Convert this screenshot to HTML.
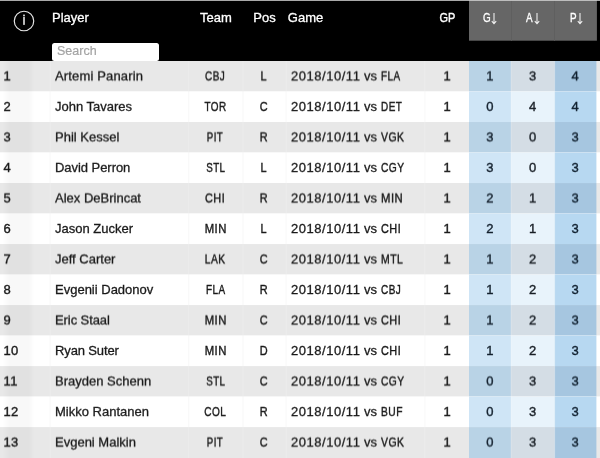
<!DOCTYPE html><html><head><meta charset="utf-8"><title>Stats</title><style>
*{box-sizing:border-box;margin:0;padding:0}
html,body{width:600px;height:458px;overflow:hidden;background:#fff}
body{font-family:"Liberation Sans",sans-serif;color:#1a1a1a}
b{font-weight:normal}
.wrap{position:relative;width:600px;height:458px;overflow:hidden}
.bg{position:absolute;left:0;top:0;display:block}
.hdr{position:absolute;left:0;top:0;width:600px;height:61px}
.info{position:absolute;left:11.7px;top:8.7px}
.h{position:absolute;top:10px;color:#fff;font-size:13px;line-height:16px;white-space:nowrap;-webkit-text-stroke:0.3px #fff}
.hc{text-align:center}
.ha{position:absolute;top:13.4px;line-height:0}
.ar{display:block}
.k{display:inline-block;transform:scaleX(.84);transform-origin:50% 50%;-webkit-text-stroke-width:.42px;letter-spacing:.6px}
.kl{display:inline-block;transform:scaleX(.8);transform-origin:0 50%;-webkit-text-stroke-width:.42px;letter-spacing:.6px}
.dt{letter-spacing:.53px}
.search{position:absolute;left:52px;top:42.8px;width:107px;height:18.4px;background:#fff;border-radius:2.5px;z-index:3}
.search span{position:absolute;left:5px;top:1px;font-size:12.5px;line-height:14px;color:#a4a4a4;-webkit-text-stroke:.2px #a4a4a4}
.body{position:absolute;left:0;top:61px;width:600px;height:397px}
.r{position:absolute;left:0;top:0;height:31px;width:600px;transform-origin:0 0}
.c{position:absolute;top:0;height:31px;font-size:13px;line-height:31px;white-space:nowrap;-webkit-text-stroke:0.3px #1a1a1a}
.c0{left:0;width:50px;padding-left:3.6px;border-left:0;letter-spacing:.3px}
.c1{left:50px;width:139px;padding-left:5px}
.c2{left:188.4px;width:54px;text-align:center}
.c3{left:242.4px;width:43px;text-align:center}
.c4{left:286px;width:139px;padding-left:5px}
.c5{left:425.5px;width:44px;text-align:center;padding-right:1px}
.c6{left:469.5px;width:42px;text-align:center;padding-right:1.5px}
.c7{left:511.3px;width:44px;text-align:center;padding-right:1.5px}
.c8{left:554.7px;width:41px;text-align:center}
.c9{left:596px;width:4px}
.band{position:absolute;left:0;top:0;width:50px;height:100%;background:linear-gradient(to right,rgba(0,0,0,0) 2px,rgba(0,0,0,.028) 9px,rgba(0,0,0,.028) 29px,rgba(0,0,0,0) 34px);pointer-events:none}
.kh{transform:scaleX(.76);-webkit-text-stroke-width:.35px}
.c6{color:#13202d;-webkit-text-stroke-color:#13202d}
.c7{color:#181e25;-webkit-text-stroke-color:#181e25}
.c8{color:#10202f;-webkit-text-stroke-color:#10202f}
.k1,.kh,.h .k{letter-spacing:0}
.c0,.c5,.c6,.c7,.c8{-webkit-text-stroke-width:.38px}

</style></head><body>
<div class="wrap">
<svg class="bg" width="600" height="458" viewBox="0 0 600 458"><rect x="0" y="61.00" width="600" height="30.53" fill="#e8e8e8"/><rect x="469" y="61.00" width="42.0" height="30.53" fill="#b9d3e6"/><rect x="511" y="61.00" width="43.6" height="30.53" fill="#d4dde5"/><rect x="554.6" y="61.00" width="41.8" height="30.53" fill="#a6c6e0"/><rect x="0" y="91.51" width="600" height="30.53" fill="#fff"/><rect x="469" y="91.51" width="42.0" height="30.53" fill="#cfe5f6"/><rect x="511" y="91.51" width="43.6" height="30.53" fill="#e8f3fb"/><rect x="554.6" y="91.51" width="41.8" height="30.53" fill="#b7d8f1"/><rect x="0" y="122.02" width="600" height="30.53" fill="#e8e8e8"/><rect x="469" y="122.02" width="42.0" height="30.53" fill="#b9d3e6"/><rect x="511" y="122.02" width="43.6" height="30.53" fill="#d4dde5"/><rect x="554.6" y="122.02" width="41.8" height="30.53" fill="#a6c6e0"/><rect x="0" y="152.53" width="600" height="30.53" fill="#fff"/><rect x="469" y="152.53" width="42.0" height="30.53" fill="#cfe5f6"/><rect x="511" y="152.53" width="43.6" height="30.53" fill="#e8f3fb"/><rect x="554.6" y="152.53" width="41.8" height="30.53" fill="#b7d8f1"/><rect x="0" y="183.04" width="600" height="30.53" fill="#e8e8e8"/><rect x="469" y="183.04" width="42.0" height="30.53" fill="#b9d3e6"/><rect x="511" y="183.04" width="43.6" height="30.53" fill="#d4dde5"/><rect x="554.6" y="183.04" width="41.8" height="30.53" fill="#a6c6e0"/><rect x="0" y="213.55" width="600" height="30.53" fill="#fff"/><rect x="469" y="213.55" width="42.0" height="30.53" fill="#cfe5f6"/><rect x="511" y="213.55" width="43.6" height="30.53" fill="#e8f3fb"/><rect x="554.6" y="213.55" width="41.8" height="30.53" fill="#b7d8f1"/><rect x="0" y="244.06" width="600" height="30.53" fill="#e8e8e8"/><rect x="469" y="244.06" width="42.0" height="30.53" fill="#b9d3e6"/><rect x="511" y="244.06" width="43.6" height="30.53" fill="#d4dde5"/><rect x="554.6" y="244.06" width="41.8" height="30.53" fill="#a6c6e0"/><rect x="0" y="274.57" width="600" height="30.53" fill="#fff"/><rect x="469" y="274.57" width="42.0" height="30.53" fill="#cfe5f6"/><rect x="511" y="274.57" width="43.6" height="30.53" fill="#e8f3fb"/><rect x="554.6" y="274.57" width="41.8" height="30.53" fill="#b7d8f1"/><rect x="0" y="305.08" width="600" height="30.53" fill="#e8e8e8"/><rect x="469" y="305.08" width="42.0" height="30.53" fill="#b9d3e6"/><rect x="511" y="305.08" width="43.6" height="30.53" fill="#d4dde5"/><rect x="554.6" y="305.08" width="41.8" height="30.53" fill="#a6c6e0"/><rect x="0" y="335.59" width="600" height="30.53" fill="#fff"/><rect x="469" y="335.59" width="42.0" height="30.53" fill="#cfe5f6"/><rect x="511" y="335.59" width="43.6" height="30.53" fill="#e8f3fb"/><rect x="554.6" y="335.59" width="41.8" height="30.53" fill="#b7d8f1"/><rect x="0" y="366.10" width="600" height="30.53" fill="#e8e8e8"/><rect x="469" y="366.10" width="42.0" height="30.53" fill="#b9d3e6"/><rect x="511" y="366.10" width="43.6" height="30.53" fill="#d4dde5"/><rect x="554.6" y="366.10" width="41.8" height="30.53" fill="#a6c6e0"/><rect x="0" y="396.61" width="600" height="30.53" fill="#fff"/><rect x="469" y="396.61" width="42.0" height="30.53" fill="#cfe5f6"/><rect x="511" y="396.61" width="43.6" height="30.53" fill="#e8f3fb"/><rect x="554.6" y="396.61" width="41.8" height="30.53" fill="#b7d8f1"/><rect x="0" y="427.12" width="600" height="32.51" fill="#e8e8e8"/><rect x="469" y="427.12" width="42.0" height="32.51" fill="#b9d3e6"/><rect x="511" y="427.12" width="43.6" height="32.51" fill="#d4dde5"/><rect x="554.6" y="427.12" width="41.8" height="32.51" fill="#a6c6e0"/><rect x="49.6" y="61.0" width="1" height="397.0" fill="#f1f1f1" fill-opacity="0.5"/><rect x="188.2" y="61.0" width="1" height="397.0" fill="#f1f1f1" fill-opacity="0.5"/><rect x="242.5" y="61.0" width="1" height="397.0" fill="#f1f1f1" fill-opacity="0.5"/><rect x="285.6" y="61.0" width="1" height="397.0" fill="#f1f1f1" fill-opacity="0.5"/><rect x="424.4" y="61.0" width="1" height="397.0" fill="#f1f1f1" fill-opacity="0.5"/><rect x="510.6" y="61.0" width="1" height="397.0" fill="#fff" fill-opacity="0.22"/><rect x="554.2" y="61.0" width="1" height="397.0" fill="#fff" fill-opacity="0.22"/><rect x="0" y="0" width="600" height="61.0" fill="#000"/><rect x="469" y="0" width="127.9" height="40.7" fill="#666"/><rect x="511" y="0" width="1" height="40.7" fill="#5f5f5f"/><rect x="554" y="0" width="1" height="40.7" fill="#5f5f5f"/><rect x="0" y="0" width="600" height="0.8" fill="#d4d4d4"/></svg>
<div class="hdr">
 <svg class="info" width="24" height="24" viewBox="0 0 24 24"><circle cx="12" cy="12" r="9.75" fill="none" stroke="#e8e8e8" stroke-width="1.15"/><rect x="11.25" y="7.8" width="1.5" height="8.1" fill="#f2f2f2"/><rect x="11.2" y="5.6" width="1.6" height="1.6" fill="#f2f2f2"/></svg>
 <span class="h hl" style="left:52px">Player</span>
 <span class="h hc" style="left:189px;width:54px">Team</span>
 <span class="h hc" style="left:243px;width:43px">Pos</span>
 <span class="h hl" style="left:287.8px">Game</span>
 <span class="h hc" style="left:425px;width:44px"><b class="k">GP</b></span>
 <span class="h hl hs" style="left:483px"><b class="kl kh">G</b></span><span class="ha" style="left:491px"><svg class="ar" width="6" height="12" viewBox="0 0 6 12"><path d="M3 0V10.6M0.8 8.2L3 10.8L5.2 8.2" fill="none" stroke="#f4f4f4" stroke-width="1.05"/></svg></span>
 <span class="h hl hs" style="left:525.7px"><b class="kl kh">A</b></span><span class="ha" style="left:533.6px"><svg class="ar" width="6" height="12" viewBox="0 0 6 12"><path d="M3 0V10.6M0.8 8.2L3 10.8L5.2 8.2" fill="none" stroke="#f4f4f4" stroke-width="1.05"/></svg></span>
 <span class="h hl hs" style="left:569.5px"><b class="kl kh">P</b></span><span class="ha" style="left:576.6px"><svg class="ar" width="6" height="12" viewBox="0 0 6 12"><path d="M3 0V10.6M0.8 8.2L3 10.8L5.2 8.2" fill="none" stroke="#f4f4f4" stroke-width="1.05"/></svg></span>
 <div class="search"><span>Search</span></div>
</div>
<div class="body">
<div class="r odd" style="transform:translateY(-0.60px) perspective(1000px) translateZ(.01px)"><span class="c c0">1</span><span class="c c1" style="letter-spacing:.15px">Artemi Panarin</span><span class="c c2"><b class="k" style="transform:scaleX(0.769)">CBJ</b></span><span class="c c3"><b class="k k1">L</b></span><span class="c c4"><b class="dt">2018/10/11</b> vs <b class="kl" style="transform:scaleX(0.764)">FLA</b></span><span class="c c5">1</span><span class="c c6">1</span><span class="c c7">3</span><span class="c c8">4</span><span class="c c9"></span></div>
<div class="r even" style="transform:translateY(29.91px) perspective(1000px) translateZ(.01px)"><span class="c c0">2</span><span class="c c1">John Tavares</span><span class="c c2"><b class="k" style="transform:scaleX(0.764)">TOR</b></span><span class="c c3"><b class="k k1">C</b></span><span class="c c4"><b class="dt">2018/10/11</b> vs <b class="kl" style="transform:scaleX(0.764)">DET</b></span><span class="c c5">1</span><span class="c c6">0</span><span class="c c7">4</span><span class="c c8">4</span><span class="c c9"></span></div>
<div class="r odd" style="transform:translateY(60.42px) perspective(1000px) translateZ(.01px)"><span class="c c0">3</span><span class="c c1">Phil Kessel</span><span class="c c2"><b class="k" style="transform:scaleX(0.745)">PIT</b></span><span class="c c3"><b class="k k1">R</b></span><span class="c c4"><b class="dt">2018/10/11</b> vs <b class="kl" style="transform:scaleX(0.802)">VGK</b></span><span class="c c5">1</span><span class="c c6">3</span><span class="c c7">0</span><span class="c c8">3</span><span class="c c9"></span></div>
<div class="r even" style="transform:translateY(90.93px) perspective(1000px) translateZ(.01px)"><span class="c c0">4</span><span class="c c1" style="letter-spacing:-.05px">David Perron</span><span class="c c2"><b class="k" style="transform:scaleX(0.754)">STL</b></span><span class="c c3"><b class="k k1">L</b></span><span class="c c4"><b class="dt">2018/10/11</b> vs <b class="kl" style="transform:scaleX(0.788)">CGY</b></span><span class="c c5">1</span><span class="c c6">3</span><span class="c c7">0</span><span class="c c8">3</span><span class="c c9"></span></div>
<div class="r odd" style="transform:translateY(121.44px) perspective(1000px) translateZ(.01px)"><span class="c c0">5</span><span class="c c1">Alex DeBrincat</span><span class="c c2"><b class="k" style="transform:scaleX(0.836)">CHI</b></span><span class="c c3"><b class="k k1">R</b></span><span class="c c4"><b class="dt">2018/10/11</b> vs <b class="kl" style="transform:scaleX(0.869)">MIN</b></span><span class="c c5">1</span><span class="c c6">2</span><span class="c c7">1</span><span class="c c8">3</span><span class="c c9"></span></div>
<div class="r even" style="transform:translateY(151.95px) perspective(1000px) translateZ(.01px)"><span class="c c0">6</span><span class="c c1">Jason Zucker</span><span class="c c2"><b class="k" style="transform:scaleX(0.869)">MIN</b></span><span class="c c3"><b class="k k1">L</b></span><span class="c c4"><b class="dt">2018/10/11</b> vs <b class="kl" style="transform:scaleX(0.836)">CHI</b></span><span class="c c5">1</span><span class="c c6">2</span><span class="c c7">1</span><span class="c c8">3</span><span class="c c9"></span></div>
<div class="r odd" style="transform:translateY(182.46px) perspective(1000px) translateZ(.01px)"><span class="c c0">7</span><span class="c c1">Jeff Carter</span><span class="c c2"><b class="k" style="transform:scaleX(0.789)">LAK</b></span><span class="c c3"><b class="k k1">C</b></span><span class="c c4"><b class="dt">2018/10/11</b> vs <b class="kl" style="transform:scaleX(0.802)">MTL</b></span><span class="c c5">1</span><span class="c c6">1</span><span class="c c7">2</span><span class="c c8">3</span><span class="c c9"></span></div>
<div class="r even" style="transform:translateY(212.97px) perspective(1000px) translateZ(.01px)"><span class="c c0">8</span><span class="c c1">Evgenii Dadonov</span><span class="c c2"><b class="k" style="transform:scaleX(0.764)">FLA</b></span><span class="c c3"><b class="k k1">R</b></span><span class="c c4"><b class="dt">2018/10/11</b> vs <b class="kl" style="transform:scaleX(0.769)">CBJ</b></span><span class="c c5">1</span><span class="c c6">1</span><span class="c c7">2</span><span class="c c8">3</span><span class="c c9"></span></div>
<div class="r odd" style="transform:translateY(243.48px) perspective(1000px) translateZ(.01px)"><span class="c c0">9</span><span class="c c1" style="letter-spacing:-.08px">Eric Staal</span><span class="c c2"><b class="k" style="transform:scaleX(0.869)">MIN</b></span><span class="c c3"><b class="k k1">C</b></span><span class="c c4"><b class="dt">2018/10/11</b> vs <b class="kl" style="transform:scaleX(0.836)">CHI</b></span><span class="c c5">1</span><span class="c c6">1</span><span class="c c7">2</span><span class="c c8">3</span><span class="c c9"></span></div>
<div class="r even" style="transform:translateY(273.99px) perspective(1000px) translateZ(.01px)"><span class="c c0">10</span><span class="c c1" style="letter-spacing:-.13px">Ryan Suter</span><span class="c c2"><b class="k" style="transform:scaleX(0.869)">MIN</b></span><span class="c c3"><b class="k k1">D</b></span><span class="c c4"><b class="dt">2018/10/11</b> vs <b class="kl" style="transform:scaleX(0.836)">CHI</b></span><span class="c c5">1</span><span class="c c6">1</span><span class="c c7">2</span><span class="c c8">3</span><span class="c c9"></span></div>
<div class="r odd" style="transform:translateY(304.50px) perspective(1000px) translateZ(.01px)"><span class="c c0">11</span><span class="c c1">Brayden Schenn</span><span class="c c2"><b class="k" style="transform:scaleX(0.754)">STL</b></span><span class="c c3"><b class="k k1">C</b></span><span class="c c4"><b class="dt">2018/10/11</b> vs <b class="kl" style="transform:scaleX(0.788)">CGY</b></span><span class="c c5">1</span><span class="c c6">0</span><span class="c c7">3</span><span class="c c8">3</span><span class="c c9"></span></div>
<div class="r even" style="transform:translateY(335.01px) perspective(1000px) translateZ(.01px)"><span class="c c0">12</span><span class="c c1">Mikko Rantanen</span><span class="c c2"><b class="k" style="transform:scaleX(0.774)">COL</b></span><span class="c c3"><b class="k k1">R</b></span><span class="c c4"><b class="dt">2018/10/11</b> vs <b class="kl" style="transform:scaleX(0.789)">BUF</b></span><span class="c c5">1</span><span class="c c6">0</span><span class="c c7">3</span><span class="c c8">3</span><span class="c c9"></span></div>
<div class="r odd" style="transform:translateY(365.52px) perspective(1000px) translateZ(.01px)"><span class="c c0">13</span><span class="c c1">Evgeni Malkin</span><span class="c c2"><b class="k" style="transform:scaleX(0.745)">PIT</b></span><span class="c c3"><b class="k k1">C</b></span><span class="c c4"><b class="dt">2018/10/11</b> vs <b class="kl" style="transform:scaleX(0.802)">VGK</b></span><span class="c c5">1</span><span class="c c6">0</span><span class="c c7">3</span><span class="c c8">3</span><span class="c c9"></span></div>
<div class="band"></div></div></div></body></html>
